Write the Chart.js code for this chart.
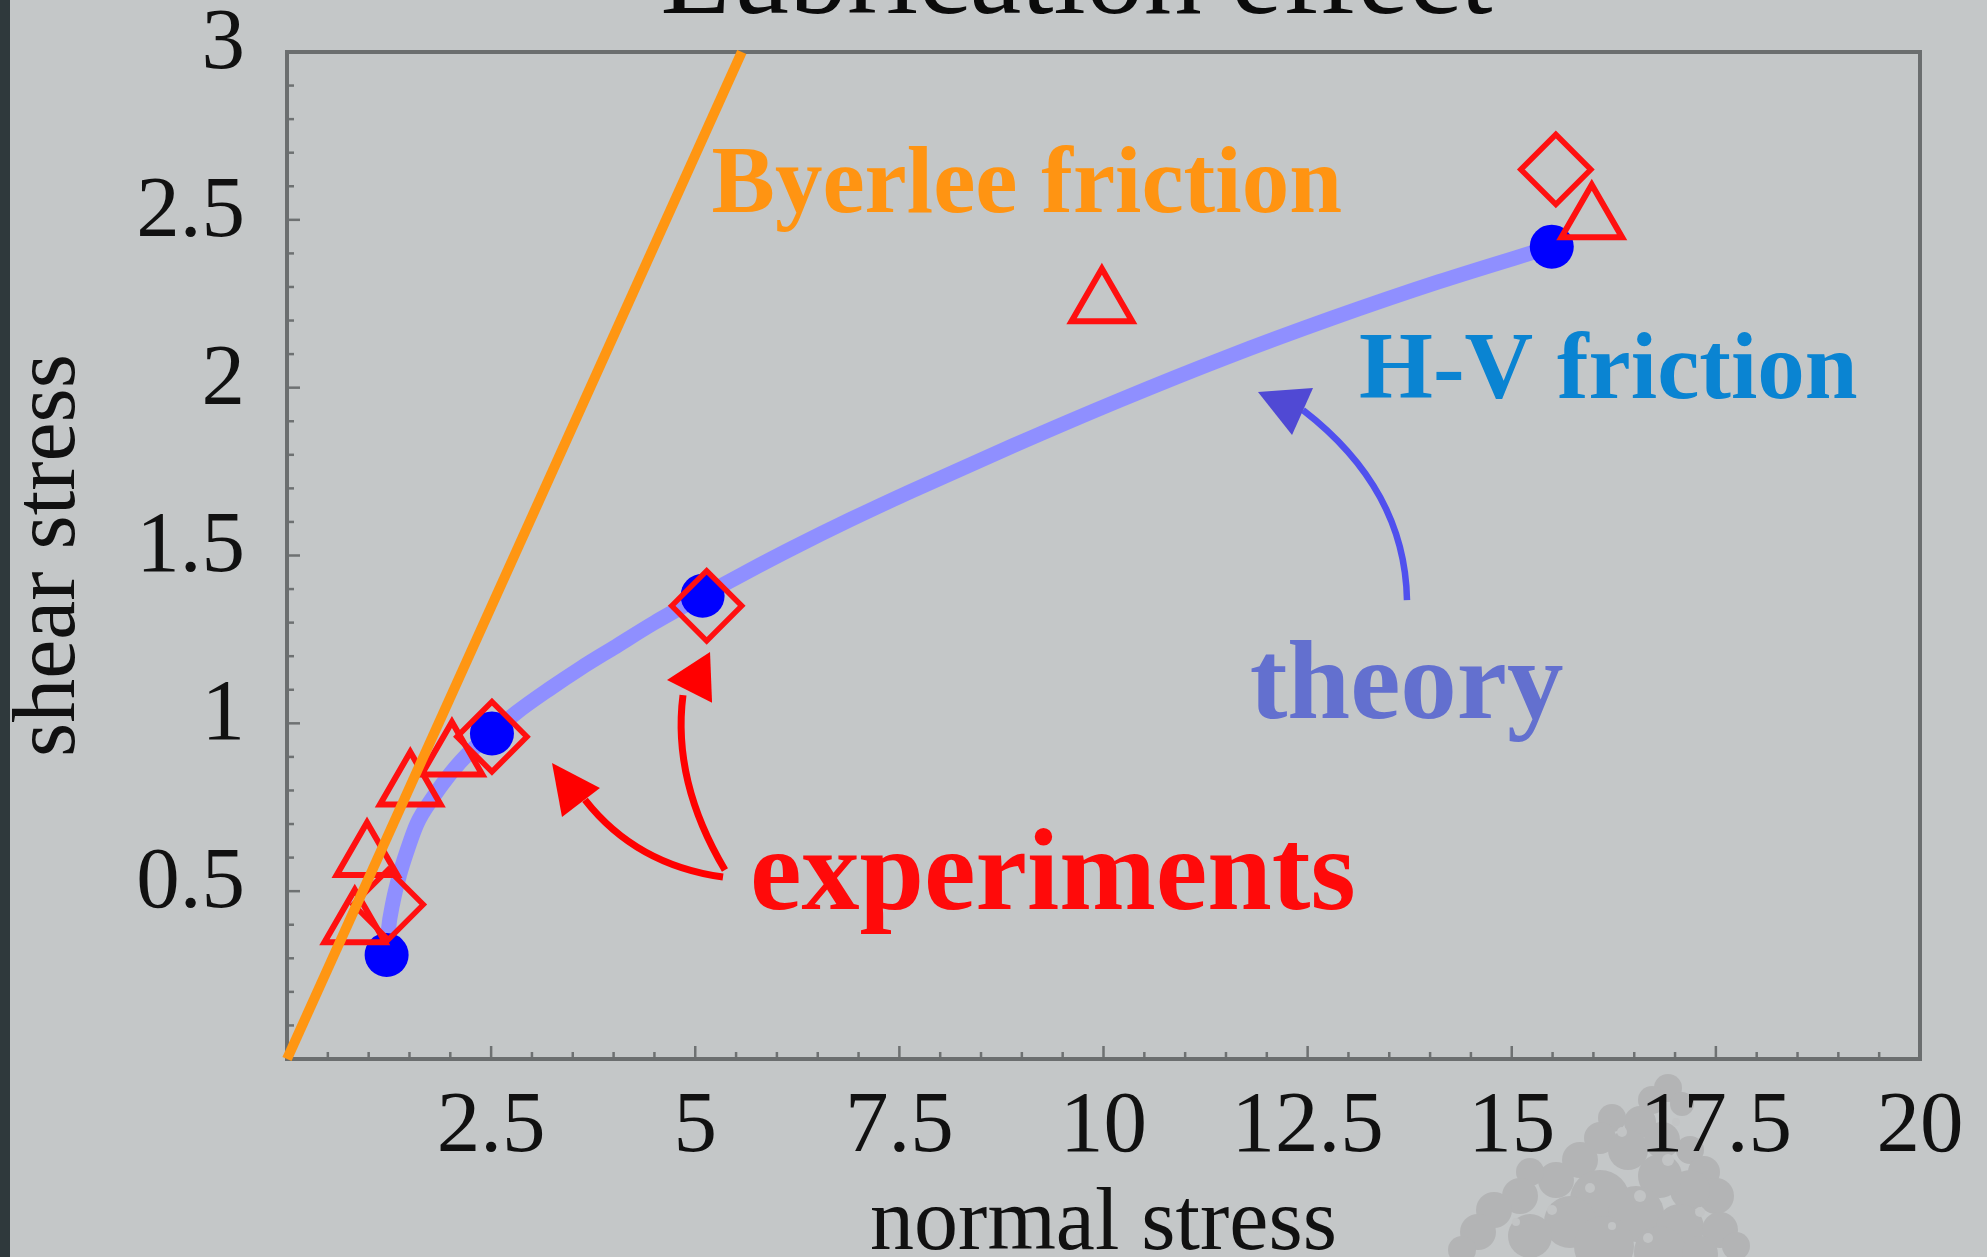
<!DOCTYPE html>
<html>
<head>
<meta charset="utf-8">
<title>Lubrication effect</title>
<script src="https://cdn.jsdelivr.net/npm/chart.js@4.4.1/dist/chart.umd.min.js"></script>
<style>
  html, body { margin: 0; padding: 0; background: #c4c7c8; overflow: hidden; }
  #wrap { position: relative; width: 1987px; height: 1257px; }
  canvas { display: block; }
</style>
</head>
<body>
<div id="wrap"><canvas id="chart" width="1987" height="1257"></canvas></div>
<script>
// ---- axes ----
const xRange = [0, 20];
const yRange = [0, 3];
const xTicks = [2.5, 5, 7.5, 10, 12.5, 15, 17.5, 20];
const yTicks = [0.5, 1, 1.5, 2, 2.5, 3];
const xMinorStep = 0.5;
const yMinorStep = 0.1;

// ---- H-V friction model (theory curve) ----
const theoryX = [1.22, 1.24, 1.30, 1.38, 1.47, 1.59, 1.79, 2.00, 2.24, 2.51, 2.80, 3.20, 3.60, 4.00,
                 4.50, 5.09, 5.60, 6.20, 6.90, 7.63, 8.90, 10.20, 11.50, 12.80, 14.10, 15.49];
const theoryY = [0.31, 0.38, 0.47, 0.55, 0.62, 0.70, 0.78, 0.85, 0.915, 0.97, 1.03, 1.10, 1.165, 1.225,
                 1.30, 1.38, 1.447, 1.523, 1.607, 1.69, 1.828, 1.963, 2.09, 2.207, 2.315, 2.42];

// model values at the tested normal stresses
const modelX = [1.22, 2.51, 5.09, 15.49];
const modelY = [0.31, 0.97, 1.38, 2.42];

// experiments: two sample series
const diamondX = [1.24, 2.51, 5.14, 15.54];
const diamondY = [0.46, 0.96, 1.35, 2.65];
const triangleX = [0.83, 0.98, 1.51, 2.02, 9.98, 15.98];
const triangleY = [0.40, 0.60, 0.81, 0.90, 2.25, 2.50];

// Byerlee friction line
const byerleeX = [0, 5.57];
const byerleeY = [0, 3];

const FONT = "'Liberation Serif', 'Times New Roman', serif";
const pts = (xs, ys) => xs.map((x, i) => ({ x, y: ys[i] }));

// text labels and arrows, anchored in data units
const notes = [
  { text: 'Byerlee friction', at: [5.20, 2.523], size: 95, color: '#ff9412' },
  { text: 'H-V friction',     at: [13.13, 1.97], size: 95, color: '#0a84d2' },
  { text: 'theory',           at: [11.79, 1.016], size: 113, color: '#6370cf' },
  { text: 'experiments',      at: [5.67, 0.447], size: 116, color: '#ff0a0a' }
];
const arrows = [
  { from: [13.717, 1.367], via: [13.693, 1.698], to: [12.443, 1.933],
    tip: [11.892, 1.987], wings: [[12.566, 1.999], [12.309, 1.859]],
    color: '#5050ee', head: '#5049d4', width: 6.5 },
  { from: [5.364, 0.563], via: [4.715, 0.828], to: [4.850, 1.084],
    tip: [5.181, 1.2125], wings: [[4.654, 1.129], [5.206, 1.061]],
    color: '#ff0000', head: '#ff0000', width: 7 },
  { from: [5.340, 0.542], via: [4.274, 0.578], to: [3.650, 0.772],
    tip: [3.246, 0.882], wings: [[3.833, 0.807], [3.368, 0.721]],
    color: '#ff0000', head: '#ff0000', width: 7 }
];

// page backdrop: flat grey, dark left strip, faint tree silhouette
const treeLeaves = [
  [1668, 1088, 14], [1652, 1100, 14], [1682, 1104, 12], [1640, 1122, 16], [1612, 1118, 14],
  [1600, 1138, 16], [1628, 1150, 20], [1662, 1140, 18], [1690, 1150, 14], [1704, 1172, 16],
  [1716, 1196, 18], [1690, 1190, 20], [1660, 1176, 22], [1580, 1160, 18], [1556, 1180, 18],
  [1530, 1172, 14], [1520, 1196, 18], [1494, 1210, 18], [1478, 1232, 18], [1462, 1250, 14],
  [1600, 1200, 30], [1636, 1214, 28], [1570, 1222, 26], [1530, 1236, 22], [1680, 1228, 24],
  [1720, 1230, 18], [1736, 1246, 14], [1604, 1246, 30], [1660, 1252, 26], [1700, 1254, 18]
];
const treeGaps = [
  [1622, 1132, 5], [1668, 1160, 6], [1590, 1188, 5], [1640, 1196, 6], [1552, 1210, 5],
  [1700, 1212, 5], [1612, 1226, 4], [1676, 1122, 4], [1516, 1222, 4], [1648, 1238, 5]
];
const backdrop = {
  id: 'backdrop',
  beforeDraw(chart) {
    const { ctx, width, height } = chart;
    ctx.save();
    ctx.fillStyle = '#c4c7c8';
    ctx.fillRect(0, 0, width, height);
    ctx.fillStyle = '#2f393c';
    ctx.fillRect(0, 0, 10, height);
    const blot = (list, color) => {
      ctx.fillStyle = color;
      for (const [bx, by, r] of list) {
        ctx.beginPath();
        ctx.arc(bx, by, r, 0, Math.PI * 2);
        ctx.fill();
      }
    };
    blot(treeLeaves, '#b3b4b5');
    blot(treeGaps, '#c2c4c5');
    ctx.restore();
  }
};

// frame and inward tick marks
const frame = {
  id: 'frame',
  beforeDatasetsDraw(chart) {
    const { ctx, chartArea: a, scales: { x, y } } = chart;
    ctx.save();
    ctx.strokeStyle = '#6e7172';
    ctx.lineWidth = 2.5;
    const nx = Math.round((xRange[1] - xRange[0]) / xMinorStep);
    for (let i = 1; i < nx; i++) {
      const px = x.getPixelForValue(xRange[0] + i * xMinorStep);
      const len = (i % 5 === 0) ? 13 : 7;
      ctx.beginPath(); ctx.moveTo(px, a.bottom); ctx.lineTo(px, a.bottom - len); ctx.stroke();
    }
    const ny = Math.round((yRange[1] - yRange[0]) / yMinorStep);
    for (let i = 1; i < ny; i++) {
      const py = y.getPixelForValue(yRange[0] + i * yMinorStep);
      const len = (i % 5 === 0) ? 13 : 7;
      ctx.beginPath(); ctx.moveTo(a.left, py); ctx.lineTo(a.left + len, py); ctx.stroke();
    }
    ctx.lineWidth = 4;
    ctx.strokeStyle = '#6b6e6f';
    ctx.strokeRect(a.left, a.top, a.right - a.left, a.bottom - a.top);
    ctx.restore();
  }
};

// heading, annotation labels and curved arrows
const annotations = {
  id: 'annotations',
  afterDatasetsDraw(chart) {
    const { ctx, chartArea: a, scales: { x, y } } = chart;
    const P = p => [x.getPixelForValue(p[0]), y.getPixelForValue(p[1])];
    ctx.save();

    ctx.fillStyle = '#0b0b0b';
    ctx.font = `116px ${FONT}`;
    ctx.textAlign = 'center';
    ctx.textBaseline = 'alphabetic';
    ctx.fillText('Lubrication effect', (a.left + a.right) / 2 - 27, 13);

    ctx.textAlign = 'left';
    for (const n of notes) {
      const [px, py] = P(n.at);
      ctx.font = `bold ${n.size}px ${FONT}`;
      ctx.fillStyle = n.color;
      ctx.fillText(n.text, px, py);
    }

    for (const ar of arrows) {
      const [x0, y0] = P(ar.from), [x1, y1] = P(ar.via), [x2, y2] = P(ar.to);
      ctx.strokeStyle = ar.color;
      ctx.lineWidth = ar.width;
      ctx.lineCap = 'butt';
      ctx.beginPath();
      ctx.moveTo(x0, y0);
      ctx.quadraticCurveTo(x1, y1, x2, y2);
      ctx.stroke();
      const [tx, ty] = P(ar.tip), [ax, ay] = P(ar.wings[0]), [bx, by] = P(ar.wings[1]);
      ctx.fillStyle = ar.head;
      ctx.beginPath();
      ctx.moveTo(tx, ty); ctx.lineTo(ax, ay); ctx.lineTo(bx, by); ctx.closePath();
      ctx.fill();
    }
    ctx.restore();
  }
};

const tickFont = { family: FONT, size: 87, lineHeight: 1 };

new Chart(document.getElementById('chart'), {
  type: 'scatter',
  data: {
    datasets: [
      { label: 'Byerlee friction', type: 'line', data: pts(byerleeX, byerleeY),
        borderColor: '#ff9612', borderWidth: 10, pointRadius: 0, order: 0, clip: 6 },
      { label: 'experiments (triangles)', data: pts(triangleX, triangleY),
        pointStyle: 'triangle', pointRadius: 35, borderColor: '#ff1010', borderWidth: 6,
        backgroundColor: 'rgba(0,0,0,0)', order: 1 },
      { label: 'experiments (diamonds)', data: pts(diamondX, diamondY),
        pointStyle: 'rectRot', pointRadius: 35, borderColor: '#ff1010', borderWidth: 5.5,
        backgroundColor: 'rgba(0,0,0,0)', order: 1 },
      { label: 'model', data: pts(modelX, modelY),
        pointStyle: 'circle', pointRadius: 22, backgroundColor: '#0000ff', borderWidth: 0, order: 2 },
      { label: 'H-V friction', type: 'line', data: pts(theoryX, theoryY),
        borderColor: '#8f8fff', borderWidth: 15, pointRadius: 0,
        cubicInterpolationMode: 'monotone', order: 3 }
    ]
  },
  options: {
    responsive: false,
    animation: false,
    devicePixelRatio: 1,
    layout: { padding: { left: 0, right: 67, top: 52, bottom: 0 } },
    plugins: { legend: { display: false }, tooltip: { enabled: false }, title: { display: false } },
    scales: {
      x: {
        type: 'linear', min: xRange[0], max: xRange[1],
        afterBuildTicks: s => { s.ticks = xTicks.map(v => ({ value: v })); },
        afterFit: s => { s.height = 198; s.paddingLeft = 0; s.paddingRight = 0; },
        grid: { display: false, drawTicks: false },
        border: { display: false },
        ticks: { font: tickFont, color: '#111', padding: 26, maxRotation: 0, autoSkip: false,
                 callback: v => String(v) },
        title: { display: true, text: 'normal stress', color: '#111',
                 font: { family: FONT, size: 88, lineHeight: 0.8 }, padding: { top: 0, bottom: -4 } }
      },
      y: {
        type: 'linear', min: yRange[0], max: yRange[1],
        afterBuildTicks: s => { s.ticks = yTicks.map(v => ({ value: v })); },
        afterFit: s => { s.width = 287; s.paddingTop = 0; s.paddingBottom = 0; },
        grid: { display: false, drawTicks: false },
        border: { display: false },
        ticks: { font: tickFont, color: '#111', padding: 42, labelOffset: -7, autoSkip: false,
                 callback: v => String(v) },
        title: { display: true, text: 'shear stress', color: '#111',
                 font: { family: FONT, size: 88, lineHeight: 0.8 }, padding: { top: 16, bottom: 0 } }
      }
    }
  },
  plugins: [backdrop, frame, annotations]
});
</script>
</body>
</html>
